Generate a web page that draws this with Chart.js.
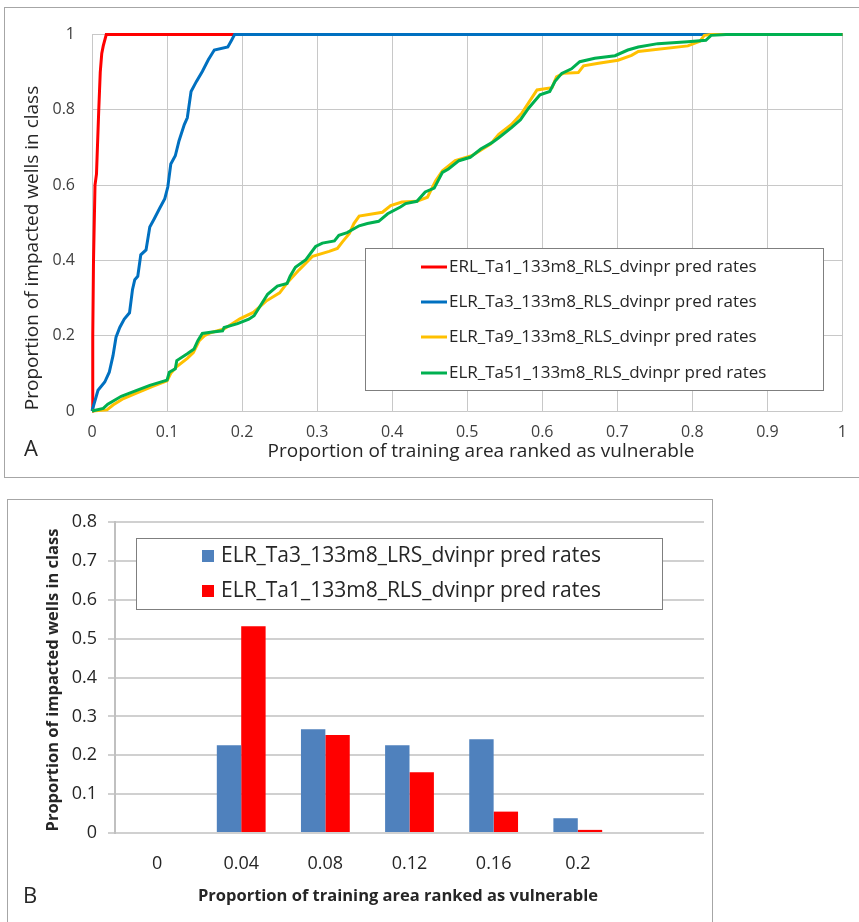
<!DOCTYPE html>
<html>
<head>
<meta charset="utf-8">
<script src="https://cdn.jsdelivr.net/npm/chart.js@4.4.0/dist/chart.umd.min.js"></script>
<style>
  html, body { margin: 0; padding: 0; background: #fff; overflow: hidden; }
  body { width: 859px; height: 922px; position: relative; }
  .frame { position: absolute; border: 1px solid #a6a6a6; }
  #frameA { left: 4px; top: 7px; width: 880px; height: 469px; }
  #frameB { left: 7px; top: 499px; width: 704px; height: 460px; }
  canvas { position: absolute; }
  #chartA { left: 5px; top: 8px; }
  #chartB { left: 8px; top: 500px; }
</style>
</head>
<body>
<div class="frame" id="frameA"></div>
<div class="frame" id="frameB"></div>
<canvas id="chartA" width="854" height="468"></canvas>
<canvas id="chartB" width="703" height="422"></canvas>
<script>
// Panel A: cumulative prediction-rate curves (x = proportion of area, y = proportion of wells)
const ta1X = [0, 0.001, 0.002, 0.004, 0.006, 0.009, 0.011, 0.013, 0.015, 0.019, 1];
const ta1Y = [0, 0.2, 0.4, 0.6, 0.63, 0.8, 0.9, 0.95, 0.97, 1, 1];

const ta3X = [0, 0.008, 0.017, 0.023, 0.028, 0.032, 0.037, 0.043, 0.050, 0.054, 0.057, 0.061, 0.065, 0.072, 0.077, 0.083,
  0.090, 0.097, 0.101, 0.105, 0.111, 0.116, 0.123, 0.127, 0.132, 0.139, 0.147, 0.155, 0.163, 0.181, 0.186, 0.190, 1];
const ta3Y = [0, 0.055, 0.077, 0.103, 0.147, 0.196, 0.222, 0.244, 0.261, 0.323, 0.349, 0.358, 0.415, 0.428, 0.489, 0.511,
  0.538, 0.564, 0.595, 0.656, 0.678, 0.718, 0.761, 0.779, 0.849, 0.875, 0.902, 0.933, 0.959, 0.967, 0.985, 1, 1];

const ta9X = [0, 0.020, 0.028, 0.042, 0.060, 0.080, 0.100, 0.105, 0.113, 0.127, 0.135, 0.143, 0.150, 0.158, 0.176, 0.197,
  0.215, 0.232, 0.250, 0.262, 0.276, 0.294, 0.316, 0.327, 0.334, 0.343, 0.349, 0.356, 0.387, 0.398, 0.413, 0.433, 0.447,
  0.458, 0.467, 0.484, 0.506, 0.531, 0.542, 0.559, 0.573, 0.593, 0.613, 0.619, 0.628, 0.648, 0.655, 0.675, 0.701, 0.719,
  0.728, 0.794, 0.810, 0.816, 0.825, 1];
const ta9Y = [0, 0.003, 0.016, 0.033, 0.048, 0.065, 0.080, 0.100, 0.118, 0.140, 0.155, 0.187, 0.200, 0.208, 0.218, 0.245,
  0.262, 0.292, 0.314, 0.345, 0.375, 0.411, 0.424, 0.432, 0.450, 0.472, 0.498, 0.518, 0.528, 0.546, 0.555, 0.557, 0.568,
  0.612, 0.638, 0.665, 0.678, 0.709, 0.735, 0.761, 0.792, 0.853, 0.859, 0.888, 0.897, 0.899, 0.917, 0.924, 0.932, 0.945,
  0.955, 0.970, 0.982, 0.998, 1, 1];

const ta51X = [0, 0.015, 0.021, 0.039, 0.057, 0.077, 0.100, 0.103, 0.111, 0.113, 0.127, 0.136, 0.141, 0.147, 0.158, 0.174,
  0.176, 0.194, 0.209, 0.216, 0.234, 0.247, 0.260, 0.264, 0.271, 0.285, 0.298, 0.307, 0.323, 0.329, 0.340, 0.356, 0.367,
  0.382, 0.394, 0.411, 0.418, 0.433, 0.444, 0.456, 0.467, 0.475, 0.489, 0.504, 0.518, 0.533, 0.542, 0.559, 0.571, 0.582,
  0.597, 0.610, 0.617, 0.626, 0.639, 0.650, 0.670, 0.697, 0.714, 0.728, 0.754, 0.794, 0.818, 0.825, 0.845, 1];
const ta51Y = [0, 0.007, 0.018, 0.039, 0.053, 0.068, 0.082, 0.103, 0.112, 0.134, 0.152, 0.165, 0.187, 0.206, 0.209, 0.213,
  0.222, 0.232, 0.244, 0.253, 0.310, 0.332, 0.339, 0.358, 0.382, 0.402, 0.437, 0.446, 0.452, 0.467, 0.474, 0.492, 0.498,
  0.504, 0.524, 0.542, 0.551, 0.557, 0.582, 0.592, 0.634, 0.643, 0.665, 0.674, 0.696, 0.713, 0.726, 0.753, 0.774, 0.805,
  0.840, 0.849, 0.876, 0.897, 0.909, 0.928, 0.937, 0.944, 0.959, 0.967, 0.976, 0.981, 0.985, 0.998, 1, 1];

const namesA = [
  'ERL_Ta1_133m8_RLS_dvinpr pred rates',
  'ELR_Ta3_133m8_RLS_dvinpr pred rates',
  'ELR_Ta9_133m8_RLS_dvinpr pred rates',
  'ELR_Ta51_133m8_RLS_dvinpr pred rates'
];
const colorsA = ['#ff0000', '#0070c0', '#ffc000', '#00b050'];

// Panel B: prediction rate per area class
const classLabels = ['0', '0.04', '0.08', '0.12', '0.16', '0.2', ''];
const ta3Rates = [0, 0.226, 0.267, 0.226, 0.241, 0.038, null];
const ta1Rates = [0, 0.532, 0.252, 0.156, 0.055, 0.008, null];
const namesB = ['ELR_Ta3_133m8_LRS_dvinpr pred rates', 'ELR_Ta1_133m8_RLS_dvinpr pred rates'];
const colorsB = ['#4f81bd', '#ff0000'];

const FONT = '"Open Sans", sans-serif';
const toPoints = (xs, ys) => xs.map((x, i) => ({ x: x, y: ys[i] }));
const plainTick = v => String(Math.round(v * 10) / 10);

// draws axis titles, the panel letter and the legend box inside the plot
function panelPlugin(cfg) {
  return {
    id: 'panel' + cfg.letter,
    afterDatasetsDraw(chart) {
      const ctx = chart.ctx;
      ctx.save();
      ctx.fillStyle = '#262626';
      ctx.textAlign = 'center';
      ctx.textBaseline = 'middle';

      ctx.font = cfg.titleFont;
      ctx.fillText('Proportion of training area ranked as vulnerable', cfg.xTitle[0], cfg.xTitle[1]);
      ctx.save();
      ctx.translate(cfg.yTitle[0], cfg.yTitle[1]);
      ctx.rotate(-Math.PI / 2);
      ctx.fillText('Proportion of impacted wells in class', 0, 0);
      ctx.restore();

      ctx.font = '22px ' + FONT;
      ctx.fillText(cfg.letter, cfg.letterPos[0], cfg.letterPos[1]);

      // legend
      const b = cfg.legendBox;
      ctx.fillStyle = '#ffffff';
      ctx.fillRect(b[0], b[1], b[2], b[3]);
      ctx.strokeStyle = '#7f7f7f';
      ctx.lineWidth = 1;
      ctx.strokeRect(b[0] + 0.5, b[1] + 0.5, b[2], b[3]);
      ctx.font = cfg.legendFont;
      ctx.textAlign = 'left';
      cfg.names.forEach((name, i) => {
        const y = cfg.legendRows[i];
        if (cfg.swatch === 'line') {
          ctx.strokeStyle = cfg.colors[i];
          ctx.lineWidth = 3;
          ctx.beginPath();
          ctx.moveTo(cfg.swatchX, y);
          ctx.lineTo(cfg.swatchX + 26, y);
          ctx.stroke();
        } else {
          ctx.fillStyle = cfg.colors[i];
          ctx.fillRect(cfg.swatchX, y - 6, 12, 12);
        }
        ctx.fillStyle = '#262626';
        ctx.fillText(name, cfg.textX, y);
      });
      ctx.restore();
    }
  };
}

new Chart(document.getElementById('chartA'), {
  type: 'scatter',
  data: {
    datasets: [ta1X, ta3X, ta9X, ta51X].map((xs, i) => ({
      label: namesA[i],
      data: toPoints(xs, [ta1Y, ta3Y, ta9Y, ta51Y][i]),
      showLine: true,
      borderColor: colorsA[i],
      backgroundColor: colorsA[i],
      borderWidth: 3,
      pointRadius: 0,
      tension: 0,
      clip: 4,
      order: 3 - i
    }))
  },
  options: {
    responsive: false,
    animation: false,
    layout: { padding: { left: 0, top: 23, right: 14, bottom: 0 } },
    plugins: { legend: { display: false }, tooltip: { enabled: false } },
    scales: {
      x: {
        type: 'linear', min: 0, max: 1,
        afterFit: s => { s.height = 65; },
        border: { display: false },
        grid: { color: '#c8c8c8', drawTicks: false },
        ticks: { stepSize: 0.1, padding: 12, color: '#404040', callback: plainTick, font: { family: FONT, size: 16 } }
      },
      y: {
        min: 0, max: 1,
        afterFit: s => { s.width = 87; },
        border: { display: false },
        grid: { color: '#c8c8c8', drawTicks: false },
        ticks: { stepSize: 0.2, padding: 17, color: '#404040', callback: plainTick, font: { family: FONT, size: 16 } }
      }
    }
  },
  plugins: [panelPlugin({
    letter: 'A', letterPos: [26, 442],
    titleFont: '19px ' + FONT, xTitle: [476, 444], yTitle: [28, 240],
    legendBox: [360, 240, 458, 142], legendRows: [259, 294, 329, 365],
    legendFont: '17px ' + FONT, swatch: 'line', swatchX: 416, textX: 444,
    names: namesA, colors: colorsA
  })]
});

new Chart(document.getElementById('chartB'), {
  type: 'bar',
  data: {
    labels: classLabels,
    datasets: [
      { label: namesB[0], data: ta3Rates, backgroundColor: colorsB[0], categoryPercentage: 0.58, barPercentage: 1 },
      { label: namesB[1], data: ta1Rates, backgroundColor: colorsB[1], categoryPercentage: 0.58, barPercentage: 1 }
    ]
  },
  options: {
    responsive: false,
    animation: false,
    layout: { padding: { left: 0, top: 22, right: 7, bottom: 0 } },
    plugins: { legend: { display: false }, tooltip: { enabled: false } },
    scales: {
      x: {
        afterFit: s => { s.height = 89; },
        border: { display: false },
        grid: { display: false },
        ticks: { padding: 12, color: '#262626', font: { family: FONT, size: 18 } }
      },
      y: {
        min: 0, max: 0.8,
        afterFit: s => { s.width = 107; },
        border: { display: true, color: '#c0c0c0', width: 2 },
        grid: { color: '#d0d0d0', lineWidth: 2, tickLength: 7 },
        ticks: { stepSize: 0.1, padding: 11, color: '#262626', font: { family: FONT, size: 18 } }
      }
    }
  },
  plugins: [panelPlugin({
    letter: 'B', letterPos: [22, 397],
    titleFont: 'bold 16.5px ' + FONT, xTitle: [390, 396], yTitle: [45, 180],
    legendBox: [128, 38, 526, 71], legendRows: [56, 91],
    legendFont: '21px ' + FONT, swatch: 'box', swatchX: 194, textX: 213,
    names: namesB, colors: colorsB
  })]
});
</script>
</body>
</html>
